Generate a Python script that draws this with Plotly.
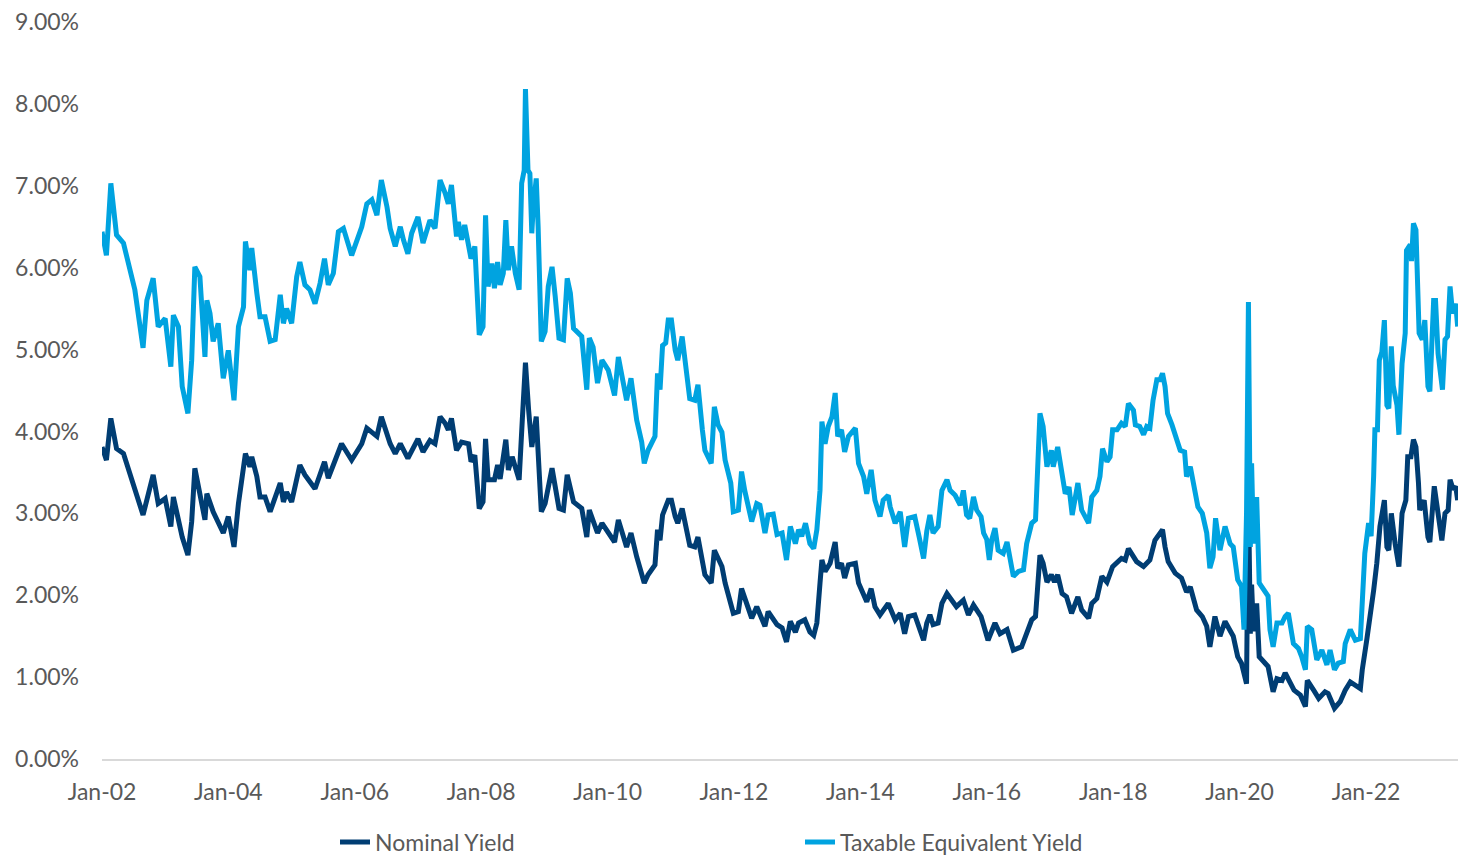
import datetime as dt
import plotly.graph_objects as go

# ---------------- data ----------------
# decimal years and yields (%)
tey_years = [
    2002.00, 2002.07, 2002.14, 2002.23, 2002.34, 2002.52, 2002.65, 2002.71, 2002.81, 2002.89,
    2003.00, 2003.09, 2003.13, 2003.21, 2003.27, 2003.36, 2003.42, 2003.47, 2003.55, 2003.63,
    2003.66, 2003.71, 2003.76, 2003.84, 2003.92, 2004.00, 2004.09, 2004.16, 2004.24, 2004.27,
    2004.34, 2004.37, 2004.45, 2004.50, 2004.58, 2004.66, 2004.74, 2004.82, 2004.87, 2004.92,
    2005.00, 2005.08, 2005.13, 2005.21, 2005.29, 2005.37, 2005.45, 2005.52, 2005.58, 2005.66,
    2005.74, 2005.82, 2005.95, 2006.03, 2006.11, 2006.19, 2006.27, 2006.35, 2006.42, 2006.51,
    2006.56, 2006.64, 2006.72, 2006.77, 2006.84, 2006.90, 2007.00, 2007.08, 2007.19, 2007.27,
    2007.35, 2007.43, 2007.48, 2007.53, 2007.61, 2007.64, 2007.69, 2007.74, 2007.80, 2007.84,
    2007.90, 2007.97, 2008.03, 2008.07, 2008.11, 2008.17, 2008.21, 2008.26, 2008.30, 2008.35,
    2008.39, 2008.43, 2008.48, 2008.54, 2008.60, 2008.64, 2008.68, 2008.70, 2008.74, 2008.77,
    2008.80, 2008.82, 2008.87, 2008.90, 2008.95, 2009.01, 2009.06, 2009.12, 2009.17, 2009.23,
    2009.30, 2009.36, 2009.41, 2009.46, 2009.59, 2009.67, 2009.71, 2009.77, 2009.84, 2009.91,
    2010.01, 2010.11, 2010.17, 2010.22, 2010.30, 2010.37, 2010.46, 2010.54, 2010.58, 2010.64,
    2010.75, 2010.79, 2010.83, 2010.87, 2010.92, 2010.96, 2011.01, 2011.07, 2011.11, 2011.18,
    2011.25, 2011.30, 2011.38, 2011.43, 2011.50, 2011.54, 2011.64, 2011.69, 2011.75, 2011.81,
    2011.86, 2011.95, 2011.99, 2012.07, 2012.12, 2012.17, 2012.28, 2012.36, 2012.41, 2012.49,
    2012.54, 2012.62, 2012.68, 2012.76, 2012.83, 2012.89, 2012.97, 2013.02, 2013.07, 2013.13,
    2013.20, 2013.26, 2013.31, 2013.36, 2013.39, 2013.44, 2013.49, 2013.55, 2013.60, 2013.64,
    2013.70, 2013.75, 2013.81, 2013.92, 2013.97, 2014.05, 2014.10, 2014.17, 2014.23, 2014.31,
    2014.36, 2014.44, 2014.47, 2014.55, 2014.63, 2014.70, 2014.76, 2014.86, 2014.93, 2015.00,
    2015.05, 2015.10, 2015.15, 2015.23, 2015.29, 2015.37, 2015.42, 2015.50, 2015.58, 2015.63,
    2015.68, 2015.73, 2015.79, 2015.84, 2015.91, 2015.95, 2016.00, 2016.04, 2016.08, 2016.13,
    2016.18, 2016.26, 2016.32, 2016.37, 2016.42, 2016.50, 2016.58, 2016.63, 2016.71, 2016.77,
    2016.81, 2016.84, 2016.89, 2016.95, 2017.02, 2017.05, 2017.12, 2017.19, 2017.24, 2017.30,
    2017.35, 2017.44, 2017.50, 2017.61, 2017.66, 2017.74, 2017.79, 2017.83, 2017.90, 2017.95,
    2017.99, 2018.06, 2018.13, 2018.19, 2018.24, 2018.32, 2018.35, 2018.42, 2018.48, 2018.53,
    2018.58, 2018.63, 2018.69, 2018.74, 2018.78, 2018.82, 2018.86, 2018.93, 2018.98, 2019.06,
    2019.13, 2019.16, 2019.22, 2019.27, 2019.34, 2019.41, 2019.48, 2019.53, 2019.58, 2019.62,
    2019.69, 2019.77, 2019.85, 2019.90, 2019.97, 2020.03, 2020.07, 2020.11, 2020.14, 2020.17,
    2020.19, 2020.22, 2020.27, 2020.31, 2020.38, 2020.45, 2020.48, 2020.53, 2020.59, 2020.67,
    2020.72, 2020.77, 2020.85, 2020.93, 2020.98, 2021.04, 2021.07, 2021.14, 2021.22, 2021.30,
    2021.38, 2021.43, 2021.50, 2021.56, 2021.64, 2021.67, 2021.75, 2021.83, 2021.91, 2021.94,
    2021.98, 2022.04, 2022.08, 2022.12, 2022.14, 2022.18, 2022.21, 2022.25, 2022.29, 2022.33,
    2022.36, 2022.40, 2022.43, 2022.49, 2022.52, 2022.57, 2022.62, 2022.64, 2022.70, 2022.72,
    2022.75, 2022.79, 2022.82, 2022.84, 2022.89, 2022.93, 2022.98, 2023.01, 2023.07, 2023.10,
    2023.14, 2023.21, 2023.25, 2023.29, 2023.33, 2023.37, 2023.42, 2023.45,
]
tey_yield = [
    6.44, 6.15, 7.03, 6.40, 6.30, 5.73, 5.02, 5.60, 5.87, 5.28,
    5.38, 4.79, 5.42, 5.28, 4.55, 4.22, 4.87, 6.01, 5.89, 4.91,
    5.60, 5.44, 5.10, 5.32, 4.65, 4.99, 4.38, 5.28, 5.52, 6.32,
    5.97, 6.24, 5.69, 5.40, 5.40, 5.10, 5.12, 5.67, 5.32, 5.50,
    5.32, 5.89, 6.07, 5.79, 5.73, 5.56, 5.81, 6.11, 5.79, 5.93,
    6.44, 6.48, 6.15, 6.34, 6.50, 6.78, 6.83, 6.64, 7.07, 6.74,
    6.48, 6.26, 6.50, 6.34, 6.17, 6.42, 6.62, 6.30, 6.58, 6.48,
    7.07, 6.91, 6.78, 7.01, 6.38, 6.56, 6.34, 6.52, 6.26, 6.11,
    6.26, 5.18, 5.28, 6.64, 5.77, 6.05, 5.75, 6.07, 5.79, 5.93,
    6.58, 5.97, 6.26, 5.93, 5.73, 7.03, 7.19, 8.18, 7.19, 7.15,
    6.42, 6.70, 7.09, 6.50, 5.10, 5.22, 5.77, 6.01, 5.65, 5.14,
    5.12, 5.87, 5.69, 5.26, 5.16, 4.51, 5.14, 5.03, 4.59, 4.87,
    4.75, 4.44, 4.91, 4.67, 4.38, 4.65, 4.14, 3.87, 3.61, 3.77,
    3.94, 4.71, 4.51, 5.05, 5.08, 5.36, 5.36, 4.99, 4.87, 5.16,
    4.75, 4.40, 4.38, 4.57, 4.02, 3.77, 3.61, 4.30, 4.08, 3.99,
    3.65, 3.37, 3.02, 3.04, 3.51, 3.28, 2.90, 3.12, 3.10, 2.76,
    2.98, 2.99, 2.74, 2.76, 2.43, 2.84, 2.63, 2.80, 2.72, 2.88,
    2.63, 2.57, 2.80, 3.28, 4.12, 3.85, 4.06, 4.18, 4.47, 3.94,
    4.02, 3.75, 3.94, 4.04, 3.61, 3.45, 3.24, 3.53, 3.16, 2.96,
    3.16, 3.22, 3.08, 2.88, 3.02, 2.59, 2.94, 2.96, 2.71, 2.45,
    2.78, 2.98, 2.76, 2.84, 3.28, 3.41, 3.28, 3.22, 3.10, 3.28,
    2.98, 2.94, 3.20, 3.04, 2.96, 2.76, 2.68, 2.43, 2.68, 2.82,
    2.55, 2.51, 2.65, 2.43, 2.23, 2.29, 2.31, 2.63, 2.88, 2.92,
    3.77, 4.22, 4.06, 3.57, 3.77, 3.57, 3.81, 3.49, 3.24, 3.32,
    2.98, 3.37, 3.04, 2.88, 3.20, 3.28, 3.45, 3.79, 3.63, 3.69,
    4.02, 4.02, 4.10, 4.06, 4.34, 4.26, 4.08, 4.06, 3.96, 4.06,
    4.04, 4.38, 4.63, 4.63, 4.71, 4.55, 4.22, 4.08, 3.94, 3.77,
    3.75, 3.45, 3.57, 3.33, 3.08, 3.00, 2.76, 2.33, 2.47, 2.94,
    2.55, 2.84, 2.63, 2.59, 2.19, 2.11, 1.58, 3.00, 5.58, 2.59,
    3.61, 2.63, 3.20, 2.15, 2.07, 1.99, 1.58, 1.37, 1.66, 1.66,
    1.74, 1.78, 1.41, 1.35, 1.25, 1.09, 1.62, 1.58, 1.21, 1.33,
    1.15, 1.33, 1.09, 1.17, 1.19, 1.41, 1.58, 1.45, 1.47, 1.86,
    2.51, 2.88, 2.72, 3.45, 4.02, 4.02, 4.87, 4.97, 5.36, 4.32,
    4.28, 5.04, 4.56, 4.32, 3.96, 4.83, 5.20, 6.21, 6.28, 6.08,
    6.54, 6.46, 5.77, 5.20, 5.12, 5.36, 4.55, 4.49, 5.60, 5.60,
    4.95, 4.51, 5.12, 5.16, 5.77, 5.44, 5.56, 5.28,
]

nominal_years = [
    2002.00, 2002.07, 2002.14, 2002.23, 2002.34, 2002.52, 2002.65, 2002.81, 2002.89, 2003.00,
    2003.09, 2003.13, 2003.27, 2003.36, 2003.42, 2003.47, 2003.63, 2003.66, 2003.76, 2003.92,
    2004.00, 2004.09, 2004.16, 2004.27, 2004.34, 2004.37, 2004.45, 2004.50, 2004.58, 2004.66,
    2004.82, 2004.87, 2004.92, 2005.00, 2005.13, 2005.21, 2005.37, 2005.52, 2005.58, 2005.79,
    2005.95, 2006.11, 2006.19, 2006.35, 2006.42, 2006.56, 2006.64, 2006.72, 2006.84, 2007.00,
    2007.08, 2007.19, 2007.27, 2007.35, 2007.43, 2007.48, 2007.53, 2007.61, 2007.69, 2007.80,
    2007.84, 2007.90, 2007.97, 2008.03, 2008.07, 2008.11, 2008.21, 2008.26, 2008.30, 2008.39,
    2008.43, 2008.49, 2008.60, 2008.65, 2008.70, 2008.75, 2008.80, 2008.87, 2008.95, 2009.01,
    2009.12, 2009.23, 2009.30, 2009.36, 2009.46, 2009.59, 2009.67, 2009.71, 2009.84, 2009.91,
    2010.11, 2010.17, 2010.30, 2010.37, 2010.46, 2010.58, 2010.64, 2010.75, 2010.79, 2010.83,
    2010.87, 2010.96, 2011.01, 2011.07, 2011.11, 2011.18, 2011.30, 2011.38, 2011.43, 2011.54,
    2011.64, 2011.69, 2011.81, 2011.86, 2011.99, 2012.07, 2012.12, 2012.28, 2012.36, 2012.49,
    2012.54, 2012.68, 2012.76, 2012.83, 2012.89, 2012.97, 2013.02, 2013.12, 2013.20, 2013.26,
    2013.31, 2013.36, 2013.39, 2013.44, 2013.52, 2013.60, 2013.64, 2013.70, 2013.75, 2013.81,
    2013.92, 2013.97, 2014.10, 2014.17, 2014.23, 2014.31, 2014.44, 2014.55, 2014.63, 2014.70,
    2014.76, 2014.86, 2015.00, 2015.05, 2015.10, 2015.15, 2015.23, 2015.29, 2015.37, 2015.52,
    2015.63, 2015.71, 2015.79, 2015.91, 2016.02, 2016.13, 2016.21, 2016.32, 2016.42, 2016.55,
    2016.63, 2016.71, 2016.77, 2016.84, 2016.89, 2016.95, 2017.02, 2017.07, 2017.12, 2017.19,
    2017.26, 2017.34, 2017.44, 2017.50, 2017.61, 2017.66, 2017.74, 2017.82, 2017.90, 2017.99,
    2018.13, 2018.19, 2018.24, 2018.32, 2018.37, 2018.48, 2018.58, 2018.66, 2018.78, 2018.82,
    2018.87, 2018.98, 2019.08, 2019.16, 2019.22, 2019.32, 2019.41, 2019.48, 2019.53, 2019.61,
    2019.69, 2019.77, 2019.90, 2019.97, 2020.03, 2020.11, 2020.14, 2020.17, 2020.19, 2020.22,
    2020.27, 2020.31, 2020.38, 2020.45, 2020.53, 2020.59, 2020.67, 2020.72, 2020.86, 2020.96,
    2021.04, 2021.07, 2021.17, 2021.25, 2021.35, 2021.40, 2021.50, 2021.59, 2021.67, 2021.75,
    2021.91, 2021.94, 2022.01, 2022.06, 2022.12, 2022.17, 2022.22, 2022.29, 2022.33, 2022.36,
    2022.40, 2022.46, 2022.52, 2022.57, 2022.63, 2022.66, 2022.71, 2022.75, 2022.79, 2022.83,
    2022.85, 2022.92, 2022.98, 2023.01, 2023.08, 2023.14, 2023.20, 2023.25, 2023.30, 2023.33,
    2023.38, 2023.42, 2023.45,
]
nominal_yield = [
    3.81, 3.65, 4.16, 3.79, 3.73, 3.32, 2.98, 3.47, 3.12, 3.18,
    2.84, 3.20, 2.71, 2.49, 2.90, 3.55, 2.92, 3.24, 3.02, 2.76,
    2.96, 2.59, 3.12, 3.73, 3.57, 3.69, 3.45, 3.20, 3.20, 3.02,
    3.37, 3.14, 3.26, 3.14, 3.59, 3.47, 3.30, 3.63, 3.43, 3.85,
    3.65, 3.85, 4.04, 3.94, 4.18, 3.85, 3.73, 3.85, 3.67, 3.91,
    3.75, 3.89, 3.85, 4.18, 4.10, 4.02, 4.16, 3.77, 3.87, 3.85,
    3.63, 3.71, 3.06, 3.14, 3.91, 3.41, 3.41, 3.59, 3.42, 3.90,
    3.53, 3.69, 3.41, 4.14, 4.84, 4.26, 3.81, 4.18, 3.02, 3.12,
    3.55, 3.06, 3.04, 3.47, 3.14, 3.06, 2.71, 3.04, 2.76, 2.88,
    2.65, 2.92, 2.59, 2.76, 2.47, 2.15, 2.25, 2.37, 2.80, 2.67,
    2.98, 3.16, 3.16, 2.96, 2.88, 3.06, 2.61, 2.59, 2.71, 2.25,
    2.15, 2.55, 2.35, 2.15, 1.78, 1.80, 2.08, 1.72, 1.86, 1.62,
    1.80, 1.64, 1.60, 1.43, 1.68, 1.55, 1.66, 1.70, 1.55, 1.51,
    1.66, 2.15, 2.43, 2.29, 2.39, 2.65, 2.33, 2.39, 2.21, 2.37,
    2.39, 2.15, 1.92, 2.08, 1.86, 1.76, 1.90, 1.70, 1.78, 1.53,
    1.74, 1.76, 1.45, 1.66, 1.76, 1.64, 1.66, 1.90, 2.02, 1.86,
    1.94, 1.76, 1.88, 1.74, 1.45, 1.66, 1.53, 1.58, 1.33, 1.37,
    1.55, 1.70, 1.74, 2.49, 2.39, 2.16, 2.25, 2.16, 2.25, 2.02,
    1.98, 1.78, 1.98, 1.82, 1.72, 1.90, 1.96, 2.23, 2.16, 2.35,
    2.45, 2.43, 2.57, 2.47, 2.41, 2.35, 2.43, 2.67, 2.80, 2.59,
    2.41, 2.27, 2.21, 2.04, 2.10, 1.82, 1.74, 1.62, 1.37, 1.74,
    1.50, 1.68, 1.50, 1.25, 1.17, 0.92, 3.30, 1.53, 2.13, 1.56,
    1.90, 1.25, 1.19, 1.13, 0.82, 0.98, 0.96, 1.05, 0.84, 0.78,
    0.64, 0.96, 0.84, 0.74, 0.82, 0.80, 0.62, 0.70, 0.84, 0.94,
    0.86, 1.09, 1.45, 1.70, 2.06, 2.39, 2.84, 3.16, 2.59, 2.55,
    3.00, 2.63, 2.35, 3.00, 3.16, 3.69, 3.69, 3.90, 3.81, 3.37,
    3.04, 3.16, 2.71, 2.65, 3.33, 3.00, 2.67, 3.00, 3.04, 3.41,
    3.29, 3.33, 3.16,
]

series_names = ["Nominal Yield", "Taxable Equivalent Yield"]
series_colors = ["#003D73", "#00A3E0"]

assert len(tey_years) == len(tey_yield)
assert len(nominal_years) == len(nominal_yield)


def to_date(y):
    yr = int(y)
    start = dt.datetime(yr, 1, 1)
    end = dt.datetime(yr + 1, 1, 1)
    return start + (end - start) * (y - yr)


FONT = "Lato, 'Open Sans', sans-serif"
TXT = "#595959"
FS = 23

fig = go.Figure()
fig.add_trace(go.Scatter(
    x=[to_date(v) for v in nominal_years], y=nominal_yield,
    mode="lines", name=series_names[0],
    line=dict(color=series_colors[0], width=5),
    legend="legend",
))
fig.add_trace(go.Scatter(
    x=[to_date(v) for v in tey_years], y=tey_yield,
    mode="lines", name=series_names[1],
    line=dict(color=series_colors[1], width=5),
    legend="legend2",
))

# The page body margin is removed by a post script, so the figure fills the window.
W, H = 1458, 858
# plot area in screen pixels
PL, PR, PT, PB = 102, 1458, 22, 759


def px_x(p):
    return (p - PL) / (PR - PL)


def px_y(p):
    return (PB - p) / (PB - PT)


leg_common = dict(orientation="h", yanchor="middle", xanchor="left",
                  bgcolor="rgba(0,0,0,0)", font=dict(family=FONT, size=FS, color=TXT))

fig.update_layout(
    width=W, height=H,
    margin=dict(l=PL, r=W - PR, t=PT, b=H - PB, autoexpand=False),
    paper_bgcolor="white", plot_bgcolor="white",
    font=dict(family=FONT, size=FS, color=TXT),
    showlegend=True,
    legend=dict(x=px_x(335), y=px_y(842), **leg_common),
    legend2=dict(x=px_x(800), y=px_y(842), **leg_common),
    xaxis=dict(
        type="date",
        range=[to_date(2002.0), to_date(2002.0 + (PR - PL) / 63.2)],
        tick0="2002-01-01", dtick="M24", tickformat="%b-%y",
        showgrid=False, zeroline=False,
        showline=True, linecolor="#D9D9D9", linewidth=1.5,
        ticks="", ticklabelstandoff=12, ticklabeloverflow="allow",
        tickfont=dict(family=FONT, size=FS, color=TXT),
    ),
    yaxis=dict(
        range=[0, 9], tick0=0, dtick=1,
        tickformat=".2f", ticksuffix="%",
        showgrid=False, zeroline=False, showline=False,
        ticks="", ticklabelstandoff=22, ticklabeloverflow="allow",
        tickfont=dict(family=FONT, size=FS, color=TXT),
    ),
)

fig.write_html(
    "out.html",
    config=dict(displayModeBar=False),
    post_script="document.body.style.margin='0';"
                "document.documentElement.style.overflow='hidden';"
                "document.body.style.overflow='hidden';",
)
